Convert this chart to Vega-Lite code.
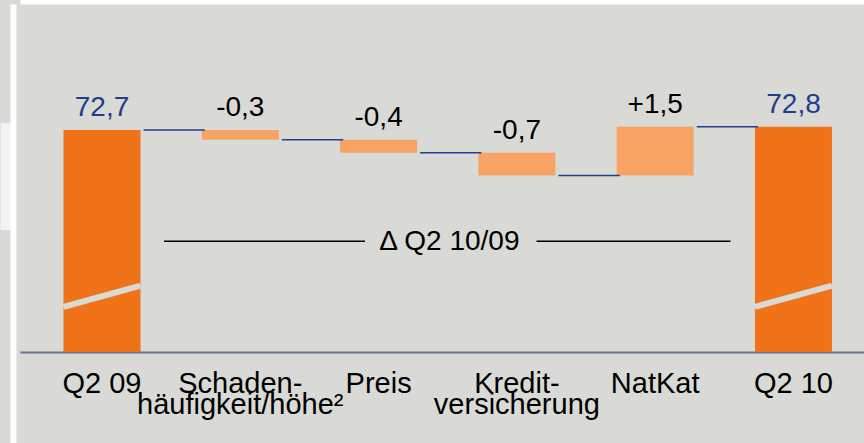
{
  "$schema": "https://vega.github.io/schema/vega-lite/v6.json",
  "autosize": "none",
  "width": 844,
  "height": 439,
  "padding": {"left": 20, "top": 4, "right": 0, "bottom": 0},
  "background": "#d9d9d5",
  "config": {"view": {"stroke": null, "fill": "#d9d9d5"}},
  "data": {"values": [
    {"cat": "Q2 09", "type": "total", "start": 72.7, "end": 72.7, "label": "72,7", "next": "Schaden-|häufigkeit/höhe²"},
    {"cat": "Schaden-|häufigkeit/höhe²", "type": "delta", "start": 72.7, "end": 72.4, "label": "-0,3", "next": "Preis"},
    {"cat": "Preis", "type": "delta", "start": 72.4, "end": 72.0, "label": "-0,4", "next": "Kredit-|versicherung"},
    {"cat": "Kredit-|versicherung", "type": "delta", "start": 72.0, "end": 71.3, "label": "-0,7", "next": "NatKat"},
    {"cat": "NatKat", "type": "delta", "start": 71.3, "end": 72.8, "label": "+1,5", "next": "Q2 10"},
    {"cat": "Q2 10", "type": "total", "start": 72.8, "end": 72.8, "label": "72,8"}
  ]},
  "layer": [
    {
      "transform": [{"filter": "datum.type == 'total'"}],
      "mark": {"type": "bar", "color": "#f07219"},
      "encoding": {
        "x": {"field": "cat", "type": "nominal", "scale": {"domain": ["Q2 09", "Schaden-|häufigkeit/höhe²", "Preis", "Kredit-|versicherung", "NatKat", "Q2 10"], "paddingInner": 0.4432, "paddingOuter": 0.273, "align": 0.576},
          "axis": {"orient": "bottom", "offset": -91, "domainColor": "#66768f", "domainWidth": 2, "ticks": false, "tickSize": 0, "labelPadding": 17, "labelExpr": "split(datum.label, '|')", "labelFont": "Liberation Sans", "labelFontSize": 29, "labelColor": "#000000", "labelLineHeight": 21, "labelAngle": 0, "labelLimit": 0, "labelOverlap": false, "title": null, "grid": false}},
        "y": {"field": "end", "type": "quantitative", "scale": {"domain": [63.069, 76.577], "zero": false, "nice": false},
          "axis": {"orient": "left", "offset": 7, "domain": true, "domainColor": "#ffffff", "domainWidth": 6, "ticks": true, "tickSize": 13, "tickWidth": 107, "tickColor": "#f2f2f2", "values": [71.27], "labels": false, "title": null, "grid": false}},
        "y2": {"datum": 65.869}
      }
    },
    {
      "transform": [{"filter": "datum.type == 'delta'"}],
      "mark": {"type": "bar", "color": "#f8a366"},
      "encoding": {
        "x": {"field": "cat", "type": "nominal", "scale": {"domain": ["Q2 09", "Schaden-|häufigkeit/höhe²", "Preis", "Kredit-|versicherung", "NatKat", "Q2 10"], "paddingInner": 0.4432, "paddingOuter": 0.273, "align": 0.576},
          "axis": {"orient": "top", "offset": 4, "domainColor": "#ffffff", "domainWidth": 8, "ticks": false, "labels": false, "title": null, "grid": false}},
        "y": {"field": "start", "type": "quantitative", "scale": {"domain": [63.069, 76.577], "zero": false, "nice": false},
          "axis": {"orient": "left", "offset": 7, "domain": true, "domainColor": "#ffffff", "domainWidth": 6, "ticks": true, "tickSize": 13, "tickWidth": 107, "tickColor": "#f2f2f2", "values": [71.27], "labels": false, "title": null, "grid": false}},
        "y2": {"field": "end"}
      }
    },
    {
      "transform": [{"filter": "datum.type == 'total'"}],
      "mark": {"type": "rule", "color": "#d9d9d5", "strokeWidth": 6, "strokeCap": "butt"},
      "encoding": {
        "x": {"field": "cat", "type": "nominal", "bandPosition": 0, "scale": {"domain": ["Q2 09", "Schaden-|häufigkeit/höhe²", "Preis", "Kredit-|versicherung", "NatKat", "Q2 10"], "paddingInner": 0.4432, "paddingOuter": 0.273, "align": 0.576}, "axis": null},
        "x2": {"field": "cat", "bandPosition": 1},
        "y": {"datum": 67.26, "type": "quantitative", "scale": {"domain": [63.069, 76.577], "zero": false, "nice": false},
          "axis": {"orient": "left", "offset": 7, "domain": true, "domainColor": "#ffffff", "domainWidth": 6, "ticks": true, "tickSize": 13, "tickWidth": 107, "tickColor": "#f2f2f2", "values": [71.27], "labels": false, "title": null, "grid": false}},
        "y2": {"datum": 67.91}
      }
    },
    {
      "transform": [{"filter": "isValid(datum.next)"}],
      "mark": {"type": "rule", "color": "#1f3f8f", "strokeWidth": 1.5},
      "encoding": {
        "x": {"field": "cat", "type": "nominal", "bandPosition": 1.04, "scale": {"domain": ["Q2 09", "Schaden-|häufigkeit/höhe²", "Preis", "Kredit-|versicherung", "NatKat", "Q2 10"], "paddingInner": 0.4432, "paddingOuter": 0.273, "align": 0.576}, "axis": null},
        "x2": {"field": "next", "bandPosition": 0.04},
        "y": {"field": "end", "type": "quantitative", "scale": {"domain": [63.069, 76.577], "zero": false, "nice": false},
          "axis": {"orient": "left", "offset": 7, "domain": true, "domainColor": "#ffffff", "domainWidth": 6, "ticks": true, "tickSize": 13, "tickWidth": 107, "tickColor": "#f2f2f2", "values": [71.27], "labels": false, "title": null, "grid": false}}
      }
    },
    {
      "transform": [{"filter": "datum.start >= datum.end"}],
      "mark": {"type": "text", "font": "Liberation Sans", "fontSize": 28, "align": "center", "baseline": "alphabetic", "dy": -14},
      "encoding": {
        "x": {"field": "cat", "type": "nominal", "scale": {"domain": ["Q2 09", "Schaden-|häufigkeit/höhe²", "Preis", "Kredit-|versicherung", "NatKat", "Q2 10"], "paddingInner": 0.4432, "paddingOuter": 0.273, "align": 0.576}, "axis": null},
        "y": {"field": "start", "type": "quantitative", "scale": {"domain": [63.069, 76.577], "zero": false, "nice": false},
          "axis": {"orient": "left", "offset": 7, "domain": true, "domainColor": "#ffffff", "domainWidth": 6, "ticks": true, "tickSize": 13, "tickWidth": 107, "tickColor": "#f2f2f2", "values": [71.27], "labels": false, "title": null, "grid": false}},
        "text": {"field": "label"},
        "color": {"field": "type", "type": "nominal", "scale": {"domain": ["total", "delta"], "range": ["#1f3d8f", "#000000"]}, "legend": null}
      }
    },
    {
      "transform": [{"filter": "datum.end > datum.start"}],
      "mark": {"type": "text", "font": "Liberation Sans", "fontSize": 28, "align": "center", "baseline": "alphabetic", "dy": -14},
      "encoding": {
        "x": {"field": "cat", "type": "nominal", "scale": {"domain": ["Q2 09", "Schaden-|häufigkeit/höhe²", "Preis", "Kredit-|versicherung", "NatKat", "Q2 10"], "paddingInner": 0.4432, "paddingOuter": 0.273, "align": 0.576}, "axis": null},
        "y": {"field": "end", "type": "quantitative", "scale": {"domain": [63.069, 76.577], "zero": false, "nice": false},
          "axis": {"orient": "left", "offset": 7, "domain": true, "domainColor": "#ffffff", "domainWidth": 6, "ticks": true, "tickSize": 13, "tickWidth": 107, "tickColor": "#f2f2f2", "values": [71.27], "labels": false, "title": null, "grid": false}},
        "text": {"field": "label"},
        "color": {"field": "type", "type": "nominal", "scale": {"domain": ["total", "delta"], "range": ["#1f3d8f", "#000000"]}, "legend": null}
      }
    },
    {
      "data": {"values": [{"a": "Q2 09", "b": "Preis"}]},
      "mark": {"type": "rule", "color": "#000000", "strokeWidth": 1.5},
      "encoding": {
        "x": {"field": "a", "type": "nominal", "bandPosition": 1.305, "scale": {"domain": ["Q2 09", "Schaden-|häufigkeit/höhe²", "Preis", "Kredit-|versicherung", "NatKat", "Q2 10"], "paddingInner": 0.4432, "paddingOuter": 0.273, "align": 0.576}, "axis": null},
        "x2": {"field": "b", "bandPosition": 0.323},
        "y": {"datum": 69.28, "type": "quantitative", "scale": {"domain": [63.069, 76.577], "zero": false, "nice": false},
          "axis": {"orient": "left", "offset": 7, "domain": true, "domainColor": "#ffffff", "domainWidth": 6, "ticks": true, "tickSize": 13, "tickWidth": 107, "tickColor": "#f2f2f2", "values": [71.27], "labels": false, "title": null, "grid": false}}
      }
    },
    {
      "data": {"values": [{"a": "Kredit-|versicherung", "b": "NatKat"}]},
      "mark": {"type": "rule", "color": "#000000", "strokeWidth": 1.5},
      "encoding": {
        "x": {"field": "a", "type": "nominal", "bandPosition": 0.755, "scale": {"domain": ["Q2 09", "Schaden-|häufigkeit/höhe²", "Preis", "Kredit-|versicherung", "NatKat", "Q2 10"], "paddingInner": 0.4432, "paddingOuter": 0.273, "align": 0.576}, "axis": null},
        "x2": {"field": "b", "bandPosition": 1.478},
        "y": {"datum": 69.28, "type": "quantitative", "scale": {"domain": [63.069, 76.577], "zero": false, "nice": false},
          "axis": {"orient": "left", "offset": 7, "domain": true, "domainColor": "#ffffff", "domainWidth": 6, "ticks": true, "tickSize": 13, "tickWidth": 107, "tickColor": "#f2f2f2", "values": [71.27], "labels": false, "title": null, "grid": false}}
      }
    },
    {
      "data": {"values": [{"a": "Preis", "text": "Δ Q2 10/09"}]},
      "mark": {"type": "text", "font": "Liberation Sans", "fontSize": 28, "align": "center", "baseline": "middle", "color": "#000000"},
      "encoding": {
        "x": {"field": "a", "type": "nominal", "bandPosition": 1.42, "scale": {"domain": ["Q2 09", "Schaden-|häufigkeit/höhe²", "Preis", "Kredit-|versicherung", "NatKat", "Q2 10"], "paddingInner": 0.4432, "paddingOuter": 0.273, "align": 0.576}, "axis": null},
        "y": {"datum": 69.25, "type": "quantitative", "scale": {"domain": [63.069, 76.577], "zero": false, "nice": false},
          "axis": {"orient": "left", "offset": 7, "domain": true, "domainColor": "#ffffff", "domainWidth": 6, "ticks": true, "tickSize": 13, "tickWidth": 107, "tickColor": "#f2f2f2", "values": [71.27], "labels": false, "title": null, "grid": false}},
        "text": {"field": "text"}
      }
    }
  ]
}
